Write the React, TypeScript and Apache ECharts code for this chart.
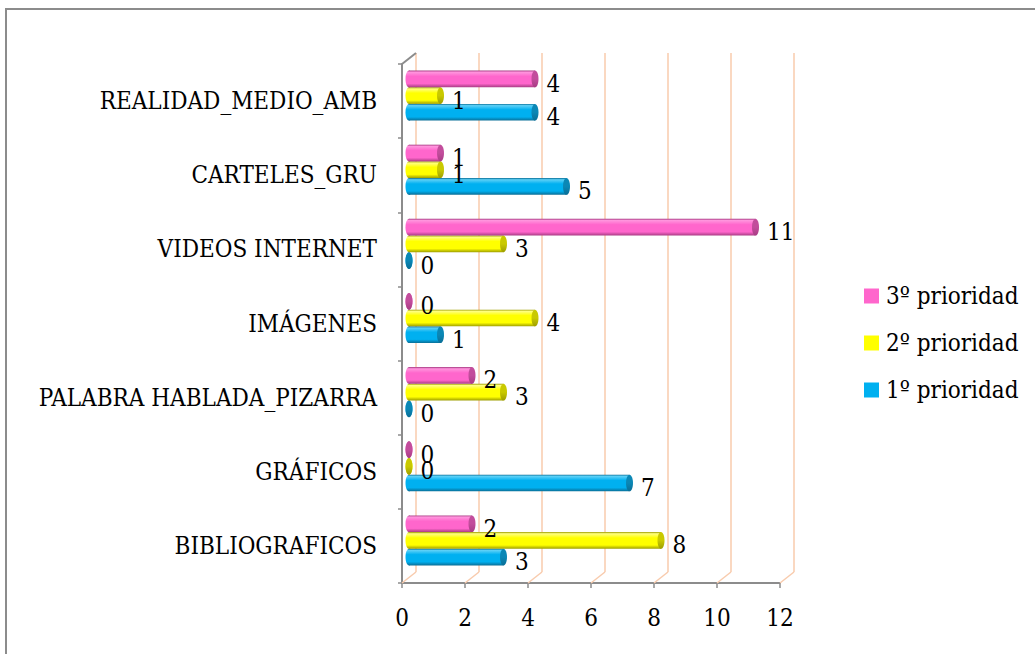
import React, { useEffect, useRef } from "react";
import * as echarts from "echarts";

const categories = [
  "BIBLIOGRAFICOS",
  "GRÁFICOS",
  "PALABRA HABLADA_PIZARRA",
  "IMÁGENES",
  "VIDEOS INTERNET",
  "CARTELES_GRU",
  "REALIDAD_MEDIO_AMB",
];
const prioridad1 = [3, 7, 0, 1, 0, 5, 4];
const prioridad2 = [8, 0, 3, 4, 3, 1, 1];
const prioridad3 = [2, 0, 2, 0, 11, 1, 4];
const seriesNames = ["1º prioridad", "2º prioridad", "3º prioridad"];
const xTicks = [0, 2, 4, 6, 8, 10, 12];

const FONT = "'DejaVu Serif Condensed', 'Liberation Serif', serif";
const DX = 14;
const DY = -11;
const GRID_LEFT = 402;
const GRID_TOP = 64;
const GRID_W = 378;
const GRID_H = 519;

const palettes = [
  { base: "#00B0F0", light: "#5CD0F7", dark: "#0A6E96", cap: "#0B87B5" },
  { base: "#FFFF00", light: "#FFFF80", dark: "#9E9E00", cap: "#C9C900" },
  { base: "#FF66CC", light: "#FF94DD", dark: "#A83C84", cap: "#C24D9C" },
];

function bodyFill(p: any) {
  return new echarts.graphic.LinearGradient(0, 0, 0, 1, [
    { offset: 0, color: p.dark },
    { offset: 0.1, color: p.light },
    { offset: 0.35, color: p.base },
    { offset: 0.78, color: p.base },
    { offset: 1, color: p.dark },
  ]);
}

function capFill(p: any) {
  return new echarts.graphic.LinearGradient(0, 0, 0, 1, [
    { offset: 0, color: p.cap },
    { offset: 0.5, color: p.cap },
    { offset: 1, color: p.dark },
  ]);
}

function makeBarRender(sIdx: number) {
  const p = palettes[sIdx];
  return (params: any, api: any) => {
    const v = api.value(0);
    const c = api.value(1);
    const p0 = api.coord([0, c]);
    const p1 = api.coord([v, c]);
    const band = api.size([0, 1])[1];
    const h = band * 0.225;
    const cy = p0[1] + DY / 2 + (1 - sIdx) * h;
    const x0 = p0[0] + DX / 2;
    const x1 = p1[0] + DX / 2;
    const rx = 3.5;
    const children: any[] = [
      {
        type: "ellipse",
        shape: { cx: x0, cy, rx, ry: h / 2 },
        style: { fill: bodyFill(p) },
      },
    ];
    if (x1 > x0) {
      children.push({
        type: "rect",
        shape: { x: x0, y: cy - h / 2, width: x1 - x0, height: h },
        style: { fill: bodyFill(p) },
      });
    }
    children.push({
      type: "ellipse",
      shape: { cx: x1, cy, rx, ry: h / 2 },
      style: { fill: capFill(p) },
    });
    children.push({
      type: "text",
      style: {
        text: String(v),
        x: x1 + rx + 8,
        y: cy + 5,
        verticalAlign: "middle",
        align: "left",
        fontSize: 24,
        fontFamily: FONT,
        fill: "#000",
      },
      z2: 10,
    });
    return { type: "group", children };
  };
}

function frameRender(params: any, api: any) {
  const t = api.value(0);
  const band = api.size([0, 1])[1];
  const pb = api.coord([t, 0]);
  const yBottom = pb[1] + band / 2;
  const children: any[] = [
    {
      type: "line",
      shape: { x1: pb[0], y1: yBottom, x2: pb[0] + DX, y2: yBottom + DY },
      style: { stroke: "#F8CBAD", lineWidth: 1.5 },
    },
  ];
  if (params.dataIndex === 0) {
    const pt = api.coord([0, categories.length - 1]);
    const yTop = pt[1] - band / 2;
    children.push({
      type: "line",
      shape: { x1: pt[0], y1: yTop, x2: pt[0] + DX, y2: yTop + DY },
      style: { stroke: "#8C8C8C", lineWidth: 2 },
    });
  }
  return { type: "group", children };
}

export default function App() {
  const ref = useRef<HTMLDivElement>(null);
  useEffect(() => {
    if (!ref.current) return;
    const chart = echarts.init(ref.current, null, { renderer: "svg" });
    const values = [prioridad1, prioridad2, prioridad3];
    chart.setOption({
      animation: false,
      backgroundColor: "#fff",
      textStyle: { fontFamily: FONT },
      grid: [
        { left: GRID_LEFT, top: GRID_TOP, width: GRID_W, height: GRID_H },
        { left: GRID_LEFT + DX, top: GRID_TOP + DY, width: GRID_W, height: GRID_H },
      ],
      xAxis: [
        {
          type: "value",
          gridIndex: 0,
          min: 0,
          max: 12,
          interval: 2,
          axisLine: { show: true, lineStyle: { color: "#8C8C8C", width: 2 } },
          axisTick: { show: true, length: 5, lineStyle: { color: "#8C8C8C", width: 1.5 } },
          axisLabel: { fontSize: 24, color: "#000", fontFamily: FONT, margin: 23 },
          splitLine: { show: false },
        },
        {
          type: "value",
          gridIndex: 1,
          min: 0,
          max: 12,
          interval: 2,
          axisLine: { show: false },
          axisTick: { show: false },
          axisLabel: { show: false },
          splitLine: { show: true, lineStyle: { color: "#F8CBAD", width: 1.5 } },
        },
      ],
      yAxis: [
        {
          type: "category",
          gridIndex: 0,
          data: categories,
          axisLine: { show: true, lineStyle: { color: "#8C8C8C", width: 2 } },
          axisTick: { show: true, length: 4, lineStyle: { color: "#8C8C8C", width: 1.5 } },
          axisLabel: { fontSize: 24, color: "#000", fontFamily: FONT, margin: 25, padding: [4, 0, 0, 0] },
          splitLine: { show: false },
        },
        {
          type: "category",
          gridIndex: 1,
          data: categories,
          show: false,
        },
      ],
      legend: {
        orient: "vertical",
        left: 859,
        top: 279,
        icon: "rect",
        itemWidth: 15,
        itemHeight: 15,
        itemGap: 23,
        data: [seriesNames[2], seriesNames[1], seriesNames[0]],
        textStyle: { fontSize: 24, color: "#000", fontFamily: FONT, padding: [0, 0, 0, 2] },
      },
      graphic: [
        {
          type: "rect",
          shape: { x: 6, y: 9, width: 1200, height: 800 },
          style: { fill: "none", stroke: "#8C8C8C", lineWidth: 2 },
          silent: true,
        },
      ],
      series: [
        {
          type: "custom",
          name: "frame",
          xAxisIndex: 0,
          yAxisIndex: 0,
          silent: true,
          z: 1,
          data: xTicks.map((t) => [t, 0]),
          encode: { x: 0, y: 1 },
          renderItem: frameRender,
        },
        ...values.map((vals, s) => ({
          type: "custom",
          name: seriesNames[s],
          xAxisIndex: 0,
          yAxisIndex: 0,
          z: 3,
          itemStyle: { color: palettes[s].base },
          data: vals.map((v, i) => [v, i]),
          encode: { x: 0, y: 1 },
          renderItem: makeBarRender(s),
        })),
      ],
    });
    return () => chart.dispose();
  }, []);
  return (
    <div
      ref={ref}
      style={{ position: "fixed", left: 0, top: 0, width: 1035, height: 654 }}
    />
  );
}
